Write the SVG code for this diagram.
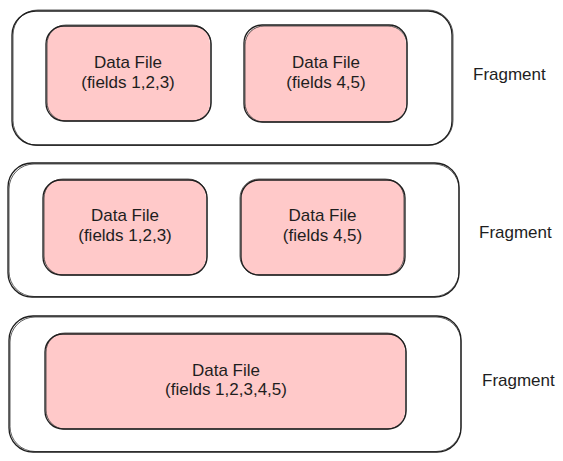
<svg xmlns="http://www.w3.org/2000/svg" width="563" height="461" viewBox="0 0 563 461">
<style>
.bg{fill:#ffffff}
.o{fill:none;stroke:#1e1e1e;stroke-width:1.3;stroke-linecap:round}
.o2{fill:none;stroke:#1e1e1e;stroke-width:0.9;stroke-opacity:0.8}
.f{fill:#ffc9c9;stroke:none}
.t{font-family:"Liberation Sans","DejaVu Sans",sans-serif;font-size:17px;fill:#1e1e1e;text-anchor:middle}
.l{font-family:"Liberation Sans","DejaVu Sans",sans-serif;font-size:17px;fill:#1e1e1e}
</style>
<rect class="bg" x="0" y="0" width="563" height="461"/>

<g id="fragment1">
  <rect class="o" x="12" y="11" width="440" height="134" rx="24"/>
  <rect class="o2" x="13" y="10" width="440" height="135.5" rx="25"/>
  <text class="l" x="473" y="80">Fragment</text>
</g>
<g id="file1a">
  <rect class="f" x="47" y="26" width="163" height="95" rx="18"/>
  <rect class="o" x="46" y="26" width="165" height="95" rx="18"/>
  <rect class="o2" x="47" y="25" width="164" height="96" rx="19"/>
  <text class="t" x="128" y="68">Data File</text>
  <text class="t" x="128" y="88">(fields 1,2,3)</text>
</g>
<g id="file1b">
  <rect class="f" x="245" y="26" width="161" height="96" rx="18"/>
  <rect class="o" x="244" y="25" width="163" height="97" rx="18"/>
  <rect class="o2" x="245" y="26" width="162" height="96" rx="19"/>
  <text class="t" x="326" y="68">Data File</text>
  <text class="t" x="326" y="88">(fields 4,5)</text>
</g>

<g id="fragment2">
  <rect class="o" x="8" y="163" width="451" height="134" rx="24"/>
  <rect class="o2" x="9" y="164" width="450" height="132.5" rx="25"/>
  <text class="l" x="479" y="238">Fragment</text>
</g>
<g id="file2a">
  <rect class="f" x="44" y="179" width="162" height="96" rx="18"/>
  <rect class="o" x="43" y="180" width="164" height="95" rx="18"/>
  <rect class="o2" x="44" y="179" width="163" height="96" rx="19"/>
  <text class="t" x="125" y="221">Data File</text>
  <text class="t" x="125" y="241">(fields 1,2,3)</text>
</g>
<g id="file2b">
  <rect class="f" x="241" y="179" width="163" height="96" rx="18"/>
  <rect class="o" x="241" y="180" width="164" height="95" rx="18"/>
  <rect class="o2" x="240" y="179" width="164" height="96" rx="19"/>
  <text class="t" x="322.5" y="221">Data File</text>
  <text class="t" x="322.5" y="241">(fields 4,5)</text>
</g>

<g id="fragment3">
  <rect class="o" x="9" y="316" width="452" height="136" rx="24"/>
  <rect class="o2" x="10" y="317" width="451" height="134.5" rx="25"/>
  <text class="l" x="482" y="386">Fragment</text>
</g>
<g id="file3">
  <rect class="f" x="46" y="333" width="359" height="96" rx="18"/>
  <rect class="o" x="45" y="334" width="361" height="95" rx="18"/>
  <rect class="o2" x="46" y="333" width="360" height="96" rx="19"/>
  <text class="t" x="226" y="376">Data File</text>
  <text class="t" x="226" y="395">(fields 1,2,3,4,5)</text>
</g>

<g id="connectors"></g>
</svg>
